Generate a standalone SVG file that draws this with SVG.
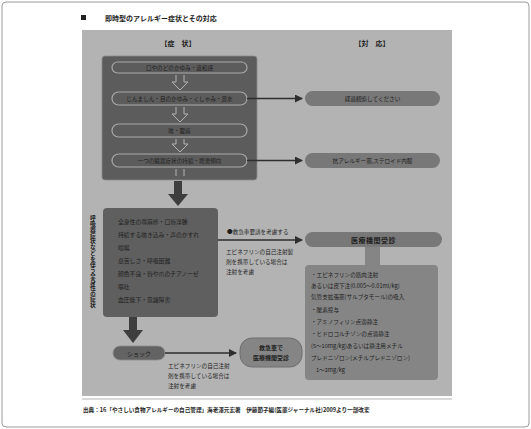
<svg xmlns="http://www.w3.org/2000/svg" width="531" height="429" viewBox="0 0 531 429">
<style>
text{font-family:"Noto Sans CJK JP","Noto Sans",sans-serif;fill:#1e1e1e}
.t{font-size:5.6px}
.l{font-size:5.8px}
.b{font-weight:bold}
.pill{fill:#5c5c5c;stroke:#a9a9a9;stroke-width:1.2}
.rp{fill:#787878}
.ln{stroke:#2e2e2e;stroke-width:1.4;fill:none}
.hol{fill:none;stroke:#b3b3b3;stroke-width:1}
.big{fill:#3e3e3e}
.vt{writing-mode:vertical-rl;text-orientation:upright}
</style>
<defs>
<marker id="ah" markerWidth="8" markerHeight="8" refX="7" refY="4" orient="auto" markerUnits="userSpaceOnUse">
<path d="M0,0 L8,4 L0,8 Z" fill="#2e2e2e"/>
</marker>
</defs>
<rect x="2" y="2" width="527" height="425" rx="4" fill="#fff" stroke="#9a9a9a" stroke-width="1"/>
<g id="title">
<rect x="81" y="15" width="5" height="5" fill="#222"/>
<text x="105" y="21" font-size="7" class="b">即時型のアレルギー症状とその対応</text>
</g>
<rect id="panel" x="82" y="30" width="370" height="366" fill="#b3b3b3"/>
<line x1="82" y1="399" x2="452" y2="399" stroke="#a0a0a0" stroke-width="0.8"/>
<g id="headers">
<text x="178" y="46" font-size="7" class="b" text-anchor="middle">【症　状】</text>
<text x="372" y="46" font-size="7" class="b" text-anchor="middle">【対　応】</text>
</g>
<g id="symptoms-box">
<rect x="102" y="56" width="155" height="124" rx="3" fill="#5c5c5c" stroke="#8a8a8a" stroke-width="0.8"/>
</g>
<g id="step1">
<rect class="pill" x="112" y="62" width="135" height="11" rx="5.5"/>
<text class="t" x="179.5" y="69.5" text-anchor="middle">口やのどのかゆみ・違和感</text>
</g>
<g id="step2">
<rect class="pill" x="112" y="92" width="135" height="13" rx="6.5"/>
<text class="t" x="179.5" y="100.5" text-anchor="middle">じんましん・目のかゆみ・くしゃみ・鼻水</text>
</g>
<g id="step3">
<rect class="pill" x="112" y="124" width="135" height="13" rx="6.5"/>
<text class="t" x="179.5" y="132.5" text-anchor="middle">咳・腹痛</text>
</g>
<g id="step4">
<rect class="pill" x="112" y="154" width="135" height="13" rx="6.5"/>
<text class="t" x="179.5" y="162.5" text-anchor="middle">一つの臓器症状の持続・増悪傾向</text>
</g>
<g id="resp1">
<rect class="rp" x="305" y="91" width="135" height="15" rx="7.5"/>
<text class="t" x="372.5" y="100.5" text-anchor="middle">経過観察してください</text>
</g>
<g id="resp2">
<rect class="rp" x="305" y="153" width="135" height="15" rx="7.5"/>
<text class="t" x="372.5" y="162.5" text-anchor="middle">抗アレルギー薬,ステロイド内服</text>
</g>
<g id="severe-label">
<text class="b vt" x="93" y="215" font-size="5.8">呼吸器症状などを伴う全身性の症状</text>
</g>
<g id="severe-box">
<rect x="103" y="208" width="115" height="109" rx="4" fill="#5f5f5f"/>
<text class="l" x="118" y="224">全身性の蕁麻疹・口唇浮腫</text>
<text class="l" x="118" y="237">持続する咳き込み・声のかすれ</text>
<text class="l" x="118" y="250">喘鳴</text>
<text class="l" x="118" y="263">息苦しさ・呼吸困難</text>
<text class="l" x="118" y="276">顔色不良・唇や爪のチアノーゼ</text>
<text class="l" x="118" y="289">嘔吐</text>
<text class="l" x="118" y="302">血圧低下・意識障害</text>
</g>
<g id="hospital">
<rect class="rp" x="305" y="232" width="137" height="15" rx="7.5"/>
<text x="373.5" y="242.5" font-size="7" class="b" text-anchor="middle" letter-spacing="0.5">医療機関受診</text>
<rect x="365" y="247" width="15" height="18" fill="#858585"/>
</g>
<g id="treatment">
<rect x="305" y="265" width="133" height="115" rx="4" fill="#858585"/>
<text class="t" x="311" y="277">・エピネフリンの筋肉注射</text>
<text class="t" x="311" y="288">あるいは皮下注(0.005～0.01ml/kg)</text>
<text class="t" x="311" y="299">気管支拡張薬(サルブタモール)の吸入</text>
<text class="t" x="311" y="312">・酸素投与</text>
<text class="t" x="311" y="324">・アミノフィリン点滴静注</text>
<text class="t" x="311" y="336">・ヒドロコルチゾンの点滴静注</text>
<text class="t" x="311" y="348">(5～10mg/kg)あるいは静注用メチル</text>
<text class="t" x="311" y="360">プレドニゾロン(メチルプレドニゾロン)</text>
<text class="t" x="316" y="372">1～2mg/kg</text>
</g>
<g id="shock">
<rect x="113" y="346" width="52" height="14" rx="7" fill="#636363" stroke="#8c8c8c" stroke-width="0.8"/>
<text x="139" y="355.5" font-size="6" text-anchor="middle">ショック</text>
</g>
<g id="ambulance">
<rect x="240" y="338" width="62" height="29" rx="12" fill="#858585" stroke="#6f6f6f" stroke-width="1"/>
<text x="271" y="350" font-size="6" class="b" text-anchor="middle">救急車で</text>
<text x="271" y="360" font-size="6" class="b" text-anchor="middle">医療機関受診</text>
</g>
<g id="notes">
<text class="t" x="227" y="234">●救急車要請を考慮する</text>
<text class="t" x="226" y="254">エピネフリンの自己注射製</text>
<text class="t" x="226" y="264">剤を携帯している場合は</text>
<text class="t" x="226" y="274">注射を考慮</text>
<text class="t" x="168" y="368">エピネフリンの自己注射</text>
<text class="t" x="168" y="378">剤を携帯している場合は</text>
<text class="t" x="168" y="388">注射を考慮</text>
</g>
<g id="connectors">
<path class="hol" d="M176,75 V82 H172 L180,90 L188,82 H184 V75"/>
<path class="hol" d="M176,107 V114 H172 L180,122 L188,114 H184 V107"/>
<path class="hol" d="M176,139 V144 H172 L180,152 L188,144 H184 V139"/>
<path class="hol" d="M176,169 V176 M184,169 V176"/>
<path class="big" d="M174,181 H182 V194 H188 L178,206 L168,194 H174 Z"/>
<path class="big" d="M129,317 H137 V330 H143 L133,343 L123,330 H129 Z"/>
<line class="ln" x1="247" y1="98.5" x2="302" y2="98.5" marker-end="url(#ah)"/>
<line class="ln" x1="247" y1="160.5" x2="302" y2="160.5" marker-end="url(#ah)"/>
<line class="ln" x1="218" y1="240" x2="302" y2="240" marker-end="url(#ah)"/>
<line class="ln" x1="165" y1="353" x2="236" y2="353" marker-end="url(#ah)"/>
</g>
<g id="footer">
<text x="83" y="412" font-size="5.6" class="b">出典：16「やさしい食物アレルギーの自己管理」海老澤元宏著　伊藤節子編(医薬ジャーナル社)2009より一部改変</text>
</g>
</svg>
